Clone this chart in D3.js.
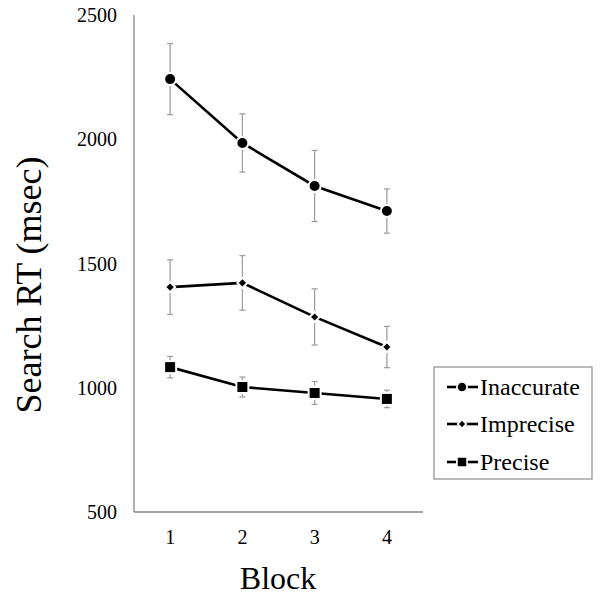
<!DOCTYPE html>
<html>
<head>
<meta charset="utf-8">
<script src="https://cdn.jsdelivr.net/npm/d3@7"></script>
<style>
body{margin:0;background:#fff;}
text{font-family:"Liberation Serif","Times New Roman",serif;fill:#000;}
</style>
</head>
<body>
<script>
// data
let blocks=[1,2,3,4];
let seriesNames=["Inaccurate","Imprecise","Precise"];
let inaccurate=[2242,1985,1812,1711];
let inaccurateErr=[143,117,143,89];
let imprecise=[1405,1422,1285,1164];
let impreciseErr=[110,110,113,83];
let precise=[1083,1003,979,955];
let preciseErr=[43,40,46,35];
let yTicks=[500,1000,1500,2000,2500];

let width=601,height=598;
let svg=d3.select("body").append("svg").attr("width",width).attr("height",height);

let x=d3.scaleBand().domain(blocks).range([134,423]);
let y=d3.scaleLinear().domain([500,2500]).range([512,15]);
let cx=function(d){return x(d)+x.bandwidth()/2;};

// axes
svg.append("line").attr("x1",134).attr("x2",134).attr("y1",y(2500)).attr("y2",y(500))
    .attr("stroke","#868686").attr("stroke-width",1.3);
svg.append("line").attr("x1",134).attr("x2",423).attr("y1",y(500)).attr("y2",y(500))
    .attr("stroke","#868686").attr("stroke-width",1.3);

svg.selectAll(".ytick").data(yTicks).enter().append("text")
    .attr("x",117).attr("y",function(d){return y(d)+7;})
    .attr("text-anchor","end").style("font-size","20px")
    .text(function(d){return d;});
svg.selectAll(".xtick").data(blocks).enter().append("text")
    .attr("x",cx).attr("y",544)
    .attr("text-anchor","middle").style("font-size","20px")
    .text(function(d){return d;});

svg.append("text").attr("x",278).attr("y",589).attr("text-anchor","middle")
    .style("font-size","32px").text("Block");
svg.append("text").attr("transform","translate(41,285) rotate(-90)")
    .attr("text-anchor","middle").style("font-size","36px").text("Search RT (msec)");

// series
let series=[
    {name:seriesNames[0],vals:inaccurate,err:inaccurateErr,shape:"circle"},
    {name:seriesNames[1],vals:imprecise,err:impreciseErr,shape:"diamond"},
    {name:seriesNames[2],vals:precise,err:preciseErr,shape:"square"}
];

function marker(g,shape){
    let m;
    if(shape=="circle"){
        m=g.append("circle").attr("r",6);
    }else if(shape=="diamond"){
        m=g.append("path").attr("d","M0,-5L5,0L0,5L-5,0Z");
    }else{
        m=g.append("rect").attr("x",-6).attr("y",-6).attr("width",12).attr("height",12);
    }
    m.attr("fill","#000").attr("stroke","#fff").attr("stroke-width",2);
}

series.forEach(function(s){
    let pts=blocks.map(function(b,i){return {b:b,v:s.vals[i],e:s.err[i]};});
    // error bars
    let eb=svg.append("g");
    pts.forEach(function(p){
        let x0=cx(p.b);
        eb.append("line").attr("x1",x0).attr("x2",x0).attr("y1",y(p.v+p.e)).attr("y2",y(p.v-p.e));
        eb.append("line").attr("x1",x0-3).attr("x2",x0+3).attr("y1",y(p.v+p.e)).attr("y2",y(p.v+p.e));
        eb.append("line").attr("x1",x0-3).attr("x2",x0+3).attr("y1",y(p.v-p.e)).attr("y2",y(p.v-p.e));
    });
    eb.selectAll("line").attr("stroke","#a0a0a0").attr("stroke-width",1.3);
    // line
    svg.append("path").datum(pts)
        .attr("d",d3.line().x(function(d){return cx(d.b);}).y(function(d){return y(d.v);}))
        .attr("fill","none").attr("stroke","#000").attr("stroke-width",2.6);
    pts.forEach(function(p){
        let g=svg.append("g").attr("transform","translate("+cx(p.b)+","+y(p.v)+")");
        marker(g,s.shape);
    });
});

// legend
let lg=svg.append("g");
lg.append("rect").attr("x",434).attr("y",367).attr("width",158).attr("height",112)
    .attr("fill","#fff").attr("stroke","#8c8c8c").attr("stroke-width",1.2);
let rowY=[387,424,462];
series.forEach(function(s,i){
    let g=lg.append("g").attr("transform","translate(0,"+rowY[i]+")");
    g.append("line").attr("x1",447).attr("x2",478).attr("y1",0).attr("y2",0)
        .attr("stroke","#000").attr("stroke-width",2.6);
    let mg=g.append("g").attr("transform","translate(462,0)");
    marker(mg,s.shape);
    mg.attr("transform","translate(462,0) scale(0.85)");
    g.append("text").attr("x",480).attr("y",8).style("font-size","24px").text(s.name);
});
</script>
</body>
</html>
